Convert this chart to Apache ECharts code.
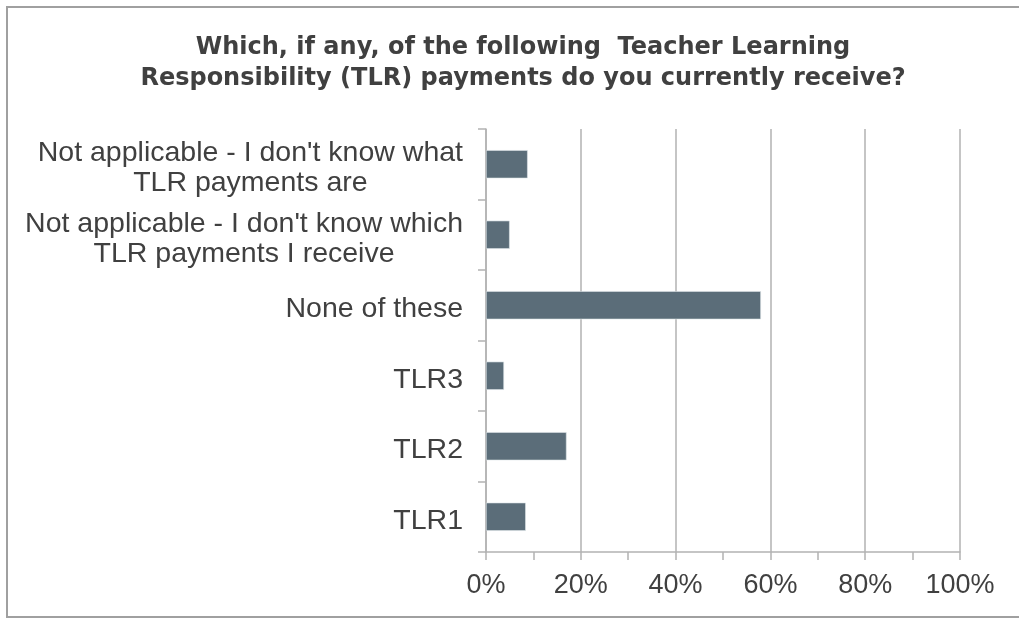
<!DOCTYPE html>
<html>
<head>
<meta charset="utf-8">
<script src="https://cdn.jsdelivr.net/npm/echarts@6/dist/echarts.min.js"></script>
<style>
html,body{margin:0;padding:0;background:#fff;}
#chart{width:1019px;height:619px;}
</style>
</head>
<body>
<div id="chart"></div>
<script>
var titleText = "Which, if any, of the following  Teacher Learning\nResponsibility (TLR) payments do you currently receive?";
var categories = [
  "TLR1",
  "TLR2",
  "TLR3",
  "None of these",
  "Not applicable - I don't know which\nTLR payments I receive",
  "Not applicable - I don't know what\nTLR payments are"
];
var values = [8.4, 17.0, 3.8, 58.0, 5.0, 8.8];
var xTicks = [0, 20, 40, 60, 80, 100];

var chart = echarts.init(document.getElementById('chart'));
var axisColor = '#b2b2b2';
var textColor = '#404040';
chart.setOption({
  animation: false,
  backgroundColor: '#ffffff',
  title: {
    text: titleText,
    left: 518,
    top: 28,
    textAlign: 'center',
    textStyle: {
      fontFamily: 'DejaVu Sans',
      fontWeight: 'bold',
      fontSize: 24,
      lineHeight: 30.5,
      color: textColor
    }
  },
  graphic: [{
    type: 'rect',
    shape: {x: 7, y: 7, width: 1030, height: 610},
    style: {fill: 'none', stroke: '#a0a0a0', lineWidth: 2},
    silent: true
  }],
  grid: {left: 486, right: 59, top: 129, bottom: 67, containLabel: false},
  xAxis: {
    type: 'value',
    min: xTicks[0],
    max: xTicks[xTicks.length - 1],
    interval: 20,
    axisLine: {show: true, lineStyle: {color: axisColor, width: 1.5}},
    axisTick: {show: true, inside: false, length: 8, lineStyle: {color: axisColor, width: 1.5}},
    minorTick: {show: true, splitNumber: 2, length: 8, lineStyle: {color: axisColor, width: 1.5}},
    splitLine: {show: true, lineStyle: {color: axisColor, width: 1.5}},
    axisLabel: {
      formatter: '{value}%',
      fontFamily: 'Liberation Sans',
      fontSize: 27,
      color: textColor,
      margin: 20
    }
  },
  yAxis: {
    type: 'category',
    data: categories,
    axisLine: {show: true, lineStyle: {color: axisColor, width: 1.5}},
    axisTick: {show: true, inside: false, length: 8, alignWithLabel: false, lineStyle: {color: axisColor, width: 1.5}},
    splitLine: {show: false},
    axisLabel: {
      margin: 23,
      align: 'right',
      padding: [8, 0, 0, 0],
      formatter: function (v) {
        return v.split('\n').map(function (s) { return '{c|' + s + '}'; }).join('\n');
      },
      rich: {
        c: {
          align: 'center',
          fontFamily: 'Liberation Sans',
          fontSize: 28.5,
          lineHeight: 30,
          color: textColor
        }
      }
    }
  },
  series: [{
    type: 'bar',
    data: values,
    barWidth: '40%',
    itemStyle: {color: '#5b6d79', borderColor: '#dfe6ea', borderWidth: 0.6}
  }]
});
</script>
</body>
</html>
